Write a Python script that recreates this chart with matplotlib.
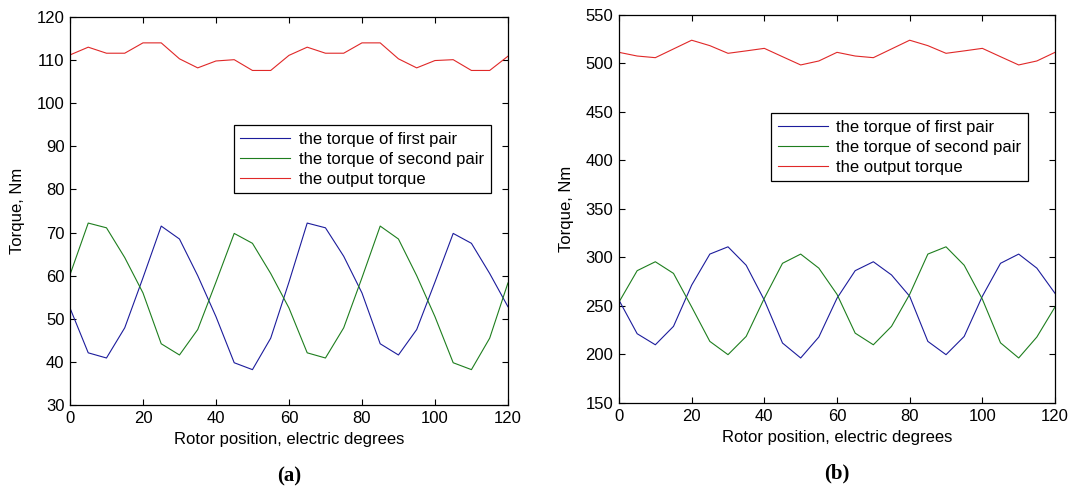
import numpy as np
import matplotlib
matplotlib.use('Agg')
import matplotlib.pyplot as plt

plt.rcParams['font.family'] = ['Liberation Sans', 'DejaVu Sans']

# rotor position, electric degrees
pos = np.arange(0, 121, 5)

# (a) torque, Nm
a_first = [52.5, 42.1, 40.9, 47.9, 59.5, 71.5, 68.5, 60.0, 50.5, 39.8, 38.2, 45.5, 58.5,
           72.2, 71.1, 64.5, 56.0, 44.2, 41.6, 47.5, 58.5, 69.8, 67.5, 60.5, 52.8]
a_second = [60.2, 72.2, 71.1, 64.2, 56.0, 44.2, 41.6, 47.5, 58.5, 69.8, 67.5, 60.5, 52.5,
            42.1, 40.9, 47.9, 59.5, 71.5, 68.5, 60.0, 50.5, 39.8, 38.2, 45.5, 58.3]
a_output = [111.2, 113.0, 111.6, 111.6, 114.0, 114.0, 110.3, 108.2, 109.8, 110.1, 107.6, 107.6, 111.1,
            113.0, 111.6, 111.6, 114.0, 114.0, 110.3, 108.2, 109.9, 110.1, 107.6, 107.6, 110.9]

# (b) torque, Nm
b_first = [256, 221.4, 210, 229, 271.5, 303.5, 311, 292, 256, 211.8, 196.4, 218, 258,
           286.4, 295.6, 282, 260, 213.5, 199.8, 218.6, 260, 294, 303.5, 289, 263]
b_second = [254, 286.4, 295.6, 283.6, 249, 213.5, 199.8, 218.6, 258, 294, 303.5, 289, 262,
            222, 210, 229, 262, 303.5, 311, 292, 257, 212, 196.4, 218, 249]
b_output = [511.5, 507.7, 506, 515, 524, 518.4, 510.5, 513, 515.6, 507, 498.5, 502.6, 511.5,
            507.7, 506, 515, 524, 518.4, 510.5, 513, 515.6, 507, 498.5, 502.6, 511.5]

labels = ['the torque of first pair', 'the torque of second pair', 'the output torque']
colors = ['#1c1c9c', '#1e7e1e', '#e02828']

fig = plt.figure(figsize=(10.7, 4.9), dpi=100)
ax_a = fig.add_axes([0.0654, 0.1735, 0.4093, 0.7918])
ax_b = fig.add_axes([0.5785, 0.1776, 0.4075, 0.7918])

def draw(ax, series, ylim, ystep, leg_anchor, tag):
    for s, c, l in zip(series, colors, labels):
        ax.plot(pos, s, color=c, lw=0.8, label=l)
    ax.set_xlim(0, 120)
    ax.set_ylim(*ylim)
    ax.set_xticks(np.arange(0, 121, 20))
    ax.set_yticks(np.arange(ylim[0], ylim[1] + 1, ystep))
    ax.tick_params(direction='in', top=True, right=True, labelsize=12, length=4, width=0.8, pad=4)
    for sp in ax.spines.values():
        sp.set_linewidth(0.9)
    ax.set_xlabel('Rotor position, electric degrees', fontsize=12, labelpad=5)
    ax.set_ylabel('Torque, Nm', fontsize=12, labelpad=8)
    leg = ax.legend(loc='upper left', bbox_to_anchor=leg_anchor, borderaxespad=0,
                    fancybox=False, edgecolor='black', framealpha=1, fontsize=12,
                    handlelength=3.0, labelspacing=0.3, borderpad=0.4, handletextpad=0.5)
    leg.get_frame().set_linewidth(0.9)
    ax.text(0.5, -0.183, '(' + tag + ')', transform=ax.transAxes, ha='center', va='center',
            fontsize=15, fontweight='bold', family=['Liberation Serif', 'DejaVu Serif'])

draw(ax_a, [a_first, a_second, a_output], (30, 120), 10, (0.374, 0.722), 'a')
draw(ax_b, [b_first, b_second, b_output], (150, 550), 50, (0.349, 0.747), 'b')

fig.savefig('out.png', dpi=100)
